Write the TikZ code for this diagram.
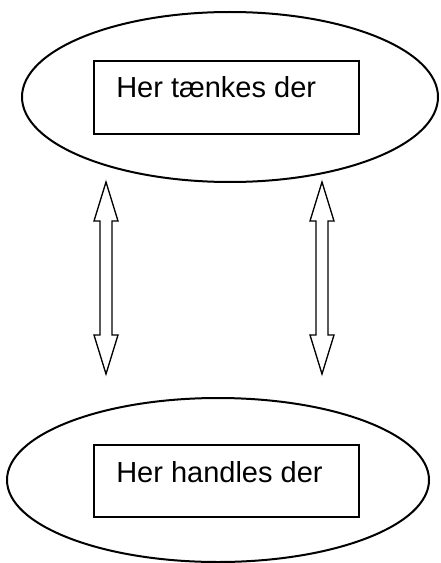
\documentclass[tikz,border=0pt]{standalone}
\usepackage{fontspec}
\setmainfont{Liberation Sans}
\usetikzlibrary{shapes.geometric,positioning}

\begin{document}
\begin{tikzpicture}[x=0.75pt,
    y=-0.75pt,
    every text node part/.style={align=left},
    level/.style = {ellipse, draw, line width=1.5pt, inner sep=0pt},
    box/.style = {rectangle, draw, line width=1pt, inner sep=0pt, minimum width=198.75pt},
    lbl/.style = {anchor=base west, inner sep=0pt, font=\fontsize{21.75}{26}\selectfont},
    blockarrow/.style = {draw, line width=1pt, line join=miter}
  ]
  \useasboundingbox (0,0) rectangle (440,563);

  \node[level, minimum width=312pt, minimum height=127.5pt] (think) at (230,97) {};
  \node[level, minimum width=316.5pt, minimum height=123pt] (act)   at (218,480) {};

  \node[box, minimum height=54.75pt] (thinkbox) at (226.5,97.5) {};
  \node[box, minimum height=54pt]    (actbox)   at (226.5,481)  {};

  \node[lbl] (thinktext) at (116,98)  {Her tænkes der};
  \node[lbl] (acttext)   at (116,482) {Her handles der};

  % the two arrows between the levels
  \draw[blockarrow] (106,182) -- (118,221) -- (112,221) -- (112,335) -- (118,335)
    -- (106,374) -- (94,335) -- (100,335) -- (100,221) -- (94,221) -- cycle;
  \draw[blockarrow] (322,182) -- (334,221) -- (328,221) -- (328,335) -- (334,335)
    -- (322,374) -- (310,335) -- (316,335) -- (316,221) -- (310,221) -- cycle;
\end{tikzpicture}
\end{document}
